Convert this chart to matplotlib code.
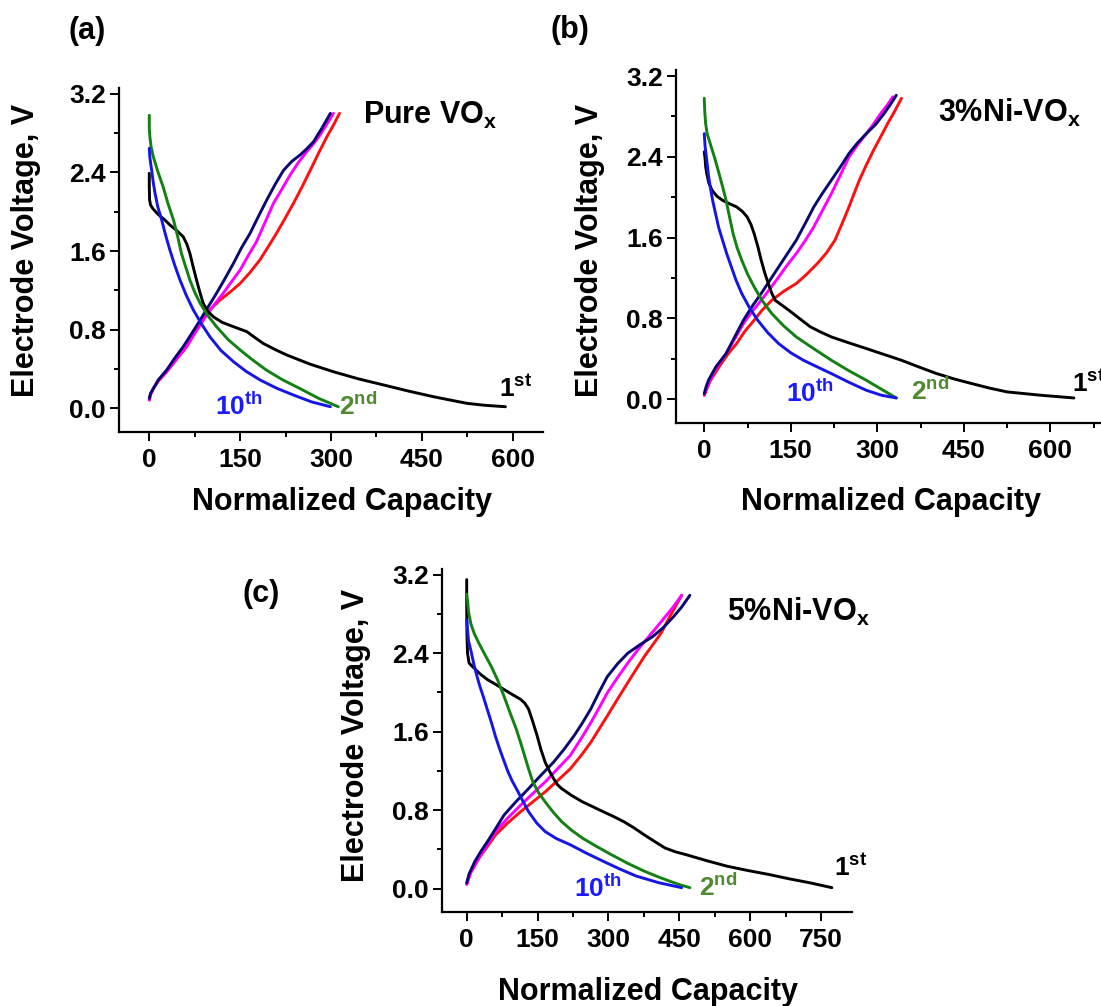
import matplotlib.pyplot as plt
from matplotlib.ticker import MultipleLocator

plt.rcParams['font.family'] = ['Liberation Sans', 'DejaVu Sans']
plt.rcParams['font.weight'] = 'bold'
plt.rcParams['mathtext.fontset'] = 'custom'
plt.rcParams['mathtext.rm'] = 'Liberation Sans:bold'
plt.rcParams['mathtext.it'] = 'Liberation Sans:bold'
plt.rcParams['mathtext.bf'] = 'Liberation Sans:bold'

W, H = 1101, 1006

# ---------- (a) Pure VOx ----------
a_d1_x = [0, 0, 0.5, 2, 6, 15, 25, 34, 45, 56, 62, 67, 72, 78, 84, 89, 96, 106, 120, 139, 150, 161, 172,
          188, 207, 227, 265, 304, 345, 387, 428, 469, 500, 525, 555, 588]
a_d1_y = [2.39, 2.25, 2.12, 2.07, 2.03, 1.97, 1.92, 1.865, 1.81, 1.745, 1.67, 1.577, 1.45, 1.305, 1.17, 1.068,
          0.99, 0.93, 0.875, 0.83, 0.805, 0.78, 0.73, 0.66, 0.60, 0.542, 0.45, 0.372, 0.30, 0.237, 0.175,
          0.118, 0.08, 0.05, 0.03, 0.016]
a_d2_x = [0, 0, 1, 3, 6.6, 14, 23, 31, 40, 47, 53, 60, 67, 75, 84, 97, 111, 130, 150, 171, 193, 220, 248, 280, 312]
a_d2_y = [2.98, 2.85, 2.76, 2.66, 2.56, 2.41, 2.25, 2.08, 1.915, 1.745, 1.577, 1.44, 1.305, 1.18, 1.068, 0.94,
          0.83, 0.70, 0.593, 0.49, 0.39, 0.29, 0.203, 0.10, 0.016]
a_d10_x = [0, 1, 2.5, 4, 6.5, 9.4, 14, 20.5, 27, 34, 42, 50.7, 61, 72.7, 86, 100, 118, 139, 160, 183, 210,
           238, 268, 299]
a_d10_y = [2.645, 2.55, 2.48, 2.42, 2.30, 2.19, 2.05, 1.915, 1.76, 1.61, 1.455, 1.305, 1.15, 1.0, 0.86, 0.728,
           0.59, 0.474, 0.375, 0.288, 0.205, 0.135, 0.065, 0.016]
a_c1_x = [0, 2, 6.6, 15, 28.7, 45, 61.7, 75, 89, 103, 116.6, 133, 150, 166, 182.7, 196, 210, 224, 238, 252,
          265.7, 279, 293, 304, 314]
a_c1_y = [0.084, 0.14, 0.2, 0.28, 0.372, 0.50, 0.627, 0.78, 0.93, 1.02, 1.1, 1.18, 1.27, 1.38, 1.51, 1.64,
          1.78, 1.93, 2.085, 2.25, 2.42, 2.59, 2.76, 2.88, 3.0]
a_c2_x = [0, 2, 6.6, 15, 28.7, 45, 61.7, 78, 94.7, 108, 122, 136, 150, 163, 177, 191, 205, 219, 232.5, 246,
          260, 271, 282, 293, 304]
a_c2_y = [0.084, 0.14, 0.2, 0.28, 0.372, 0.50, 0.627, 0.79, 0.949, 1.06, 1.17, 1.29, 1.407, 1.55, 1.695,
          1.89, 2.085, 2.23, 2.373, 2.50, 2.61, 2.69, 2.78, 2.89, 3.0]
a_c10_x = [0, 2, 6.6, 15, 28.7, 42, 56, 70, 84, 97, 111, 125, 139, 152, 166.4, 180, 194, 208, 221.5, 235,
           249, 260, 271, 285, 299]
a_c10_y = [0.10, 0.15, 0.2, 0.29, 0.39, 0.51, 0.627, 0.76, 0.898, 1.03, 1.17, 1.32, 1.475, 1.63, 1.78, 1.95,
           2.12, 2.28, 2.42, 2.51, 2.577, 2.64, 2.71, 2.85, 3.0]

# ---------- (b) 3%Ni-VOx ----------
b_d1_x = [0, 0.5, 1.2, 2.5, 4.3, 8, 13.4, 22, 31.7, 44, 56, 66, 74.3, 81, 86.5, 93, 98.7, 105, 111, 117, 123,
          135, 147, 165, 184, 202, 220.5, 250, 281, 311, 342, 372, 403, 434, 464, 495, 525, 583, 641]
b_d1_y = [2.45, 2.42, 2.40, 2.30, 2.235, 2.14, 2.07, 2.01, 1.97, 1.935, 1.905, 1.86, 1.806, 1.73, 1.64, 1.51,
          1.377, 1.25, 1.146, 1.05, 0.98, 0.93, 0.88, 0.80, 0.717, 0.665, 0.617, 0.56, 0.502, 0.445, 0.386,
          0.32, 0.254, 0.20, 0.155, 0.11, 0.073, 0.04, 0.013]
b_d2_x = [0, 0.5, 1.2, 2.4, 5, 10.4, 18, 25.6, 32, 37.8, 44, 50, 57, 65, 75, 86.5, 100, 117, 137, 159.6, 190,
          220.5, 250, 281, 307, 333]
b_d2_y = [2.98, 2.90, 2.82, 2.73, 2.63, 2.53, 2.39, 2.235, 2.10, 1.97, 1.80, 1.64, 1.50, 1.377, 1.24, 1.113,
          0.98, 0.849, 0.73, 0.617, 0.50, 0.386, 0.285, 0.188, 0.10, 0.013]
b_d10_x = [0, 1.5, 4.3, 7, 10.4, 14.5, 19.5, 25, 31.7, 39, 47, 55, 65, 78, 92.6, 110, 129, 150, 172, 196,
           220.5, 250, 281, 307, 333]
b_d10_y = [2.63, 2.50, 2.37, 2.23, 2.10, 1.97, 1.84, 1.70, 1.575, 1.44, 1.31, 1.18, 1.047, 0.91, 0.783, 0.66,
           0.551, 0.46, 0.386, 0.32, 0.254, 0.17, 0.089, 0.04, 0.013]
b_c1_x = [0, 10, 25.6, 40, 56, 70, 86.5, 100, 117, 138, 159.6, 178, 196, 212, 226.6, 239, 251, 260, 269, 281,
          293.6, 306, 318, 330, 342]
b_c1_y = [0.04, 0.18, 0.32, 0.44, 0.551, 0.67, 0.783, 0.88, 0.98, 1.07, 1.146, 1.24, 1.344, 1.45, 1.575, 1.74,
          1.905, 2.04, 2.17, 2.32, 2.467, 2.60, 2.73, 2.85, 2.98]
b_c2_x = [0, 3, 7.3, 20, 37.8, 53, 68, 83, 98.7, 114, 129, 144, 159.6, 175, 190, 205, 220.5, 236, 251, 266,
          281, 294, 306, 317, 327]
b_c2_y = [0.04, 0.10, 0.155, 0.30, 0.452, 0.60, 0.75, 0.87, 0.98, 1.095, 1.21, 1.33, 1.443, 1.57, 1.707, 1.87,
          2.037, 2.22, 2.40, 2.52, 2.63, 2.73, 2.83, 2.91, 2.995]
b_c10_x = [0, 3, 7.3, 20, 37.8, 53, 68, 83, 98.7, 114, 129, 144, 159.6, 175, 190, 205, 220.5, 236, 251, 266,
           281, 297, 312, 323, 333]
b_c10_y = [0.056, 0.12, 0.188, 0.32, 0.452, 0.62, 0.783, 0.92, 1.047, 1.18, 1.31, 1.44, 1.575, 1.74, 1.905,
           2.04, 2.17, 2.30, 2.434, 2.54, 2.63, 2.72, 2.83, 2.92, 3.01]

# ---------- (c) 5%Ni-VOx ----------
c_d1_x = [0, 0, 0.5, 1.7, 5, 13, 28, 44, 62, 79, 96, 114, 123, 131, 140, 149, 157, 166, 175, 184, 192, 201,
          222, 245, 267, 289, 311, 332.5, 354, 376, 398, 420, 442, 464, 508, 551, 595, 639, 683, 726, 773]
c_d1_y = [3.15, 2.9, 2.6, 2.4, 2.30, 2.26, 2.19, 2.13, 2.08, 2.03, 1.98, 1.93, 1.89, 1.83, 1.70, 1.56, 1.42,
          1.29, 1.20, 1.12, 1.06, 1.02, 0.95, 0.885, 0.835, 0.784, 0.735, 0.683, 0.62, 0.548, 0.48, 0.414,
          0.375, 0.347, 0.285, 0.229, 0.185, 0.145, 0.10, 0.06, 0.01]
c_d2_x = [0, 0.5, 1.75, 4, 8.75, 16, 26, 38, 52.5, 66, 79, 92, 105, 114, 122.5, 131, 140, 152, 166, 183, 201,
          222, 245, 275, 306, 340, 376, 403, 429, 451, 472.5]
c_d2_y = [3.0, 2.97, 2.94, 2.82, 2.70, 2.60, 2.50, 2.39, 2.26, 2.12, 1.96, 1.79, 1.625, 1.49, 1.356, 1.22,
          1.087, 0.98, 0.885, 0.78, 0.683, 0.595, 0.515, 0.43, 0.347, 0.26, 0.178, 0.125, 0.077, 0.04, 0.01]
c_d10_x = [0, 2, 4, 8.75, 15, 22, 28, 35, 44, 52.5, 61, 70, 79, 87.5, 96, 105, 118, 131, 148, 166, 190, 219,
           254, 289, 324, 359, 407, 455]
c_d10_y = [2.74, 2.62, 2.52, 2.43, 2.29, 2.16, 2.06, 1.96, 1.82, 1.69, 1.55, 1.42, 1.30, 1.19, 1.10, 1.02,
           0.90, 0.784, 0.67, 0.582, 0.51, 0.448, 0.36, 0.279, 0.20, 0.128, 0.06, 0.01]
c_c1_x = [0, 8, 26, 44, 61, 87, 114, 140, 166, 192, 219, 241, 262.5, 280, 297.5, 319, 341, 358, 376, 393,
          411, 433, 455]
c_c1_y = [0.044, 0.16, 0.313, 0.43, 0.548, 0.67, 0.784, 0.885, 0.986, 1.10, 1.22, 1.35, 1.49, 1.625, 1.76,
          1.93, 2.10, 2.23, 2.366, 2.48, 2.60, 2.80, 2.99]
c_c2_x = [0, 8, 26, 44, 61, 87, 114, 140, 166, 192, 219, 241, 262.5, 280, 297.5, 319, 341, 363, 385, 403,
          420, 437, 455]
c_c2_y = [0.044, 0.16, 0.313, 0.45, 0.582, 0.72, 0.85, 0.97, 1.087, 1.22, 1.356, 1.52, 1.69, 1.84, 1.995,
          2.15, 2.30, 2.44, 2.567, 2.67, 2.77, 2.87, 2.99]
c_c10_x = [0, 5, 17.5, 30, 44, 61, 79, 105, 131, 157, 184, 206, 227.5, 245, 262.5, 280, 297.5, 319, 341, 368,
           394, 416, 437.5, 455, 472.5]
c_c10_y = [0.06, 0.15, 0.28, 0.38, 0.48, 0.61, 0.75, 0.89, 1.02, 1.155, 1.29, 1.42, 1.56, 1.69, 1.83, 2.00,
           2.16, 2.29, 2.40, 2.49, 2.57, 2.66, 2.77, 2.87, 2.99]

fig = plt.figure(figsize=(W / 100, H / 100), dpi=100)


def px_rect(left, top, right, bottom):
    return [left / W, 1 - bottom / H, (right - left) / W, (bottom - top) / H]


def fig_text(px, py, s, **kw):
    fig.text(px / W, 1 - py / H, s, **kw)


def setup(ax, xlim, xmajor):
    ax.set_xlim(*xlim)
    ax.set_ylim(-0.238, 3.258)
    for side in ['top', 'right']:
        ax.spines[side].set_visible(False)
    for side in ['left', 'bottom']:
        ax.spines[side].set_linewidth(1.6)
    ax.xaxis.set_major_locator(MultipleLocator(xmajor))
    ax.xaxis.set_minor_locator(MultipleLocator(xmajor / 2))
    ax.yaxis.set_major_locator(MultipleLocator(0.8))
    ax.yaxis.set_minor_locator(MultipleLocator(0.4))
    ax.yaxis.set_major_formatter(plt.FormatStrFormatter('%.1f'))
    ax.tick_params(which='major', direction='out', length=6.5, width=1.4,
                   labelsize=19, pad=3)
    ax.tick_params(which='minor', direction='out', length=3.5, width=1.4)
    ax.tick_params(axis='x', which='major', pad=5)
    for lab in ax.get_xticklabels() + ax.get_yticklabels():
        lab.set_fontweight('bold')


def curves(ax, d1, d2, d10, c1, c2, c10):
    kw = dict(lw=2.1, solid_joinstyle='round', solid_capstyle='round')
    ax.plot(*c1, color='#ff1010', **kw)
    ax.plot(*c2, color='#ff00ff', **kw)
    ax.plot(*c10, color='#0a0a70', **kw)
    ax.plot(*d1, color='black', **kw)
    ax.plot(*d2, color='#138013', **kw)
    ax.plot(*d10, color='#1515e8', **kw)


# panel (a)
ax_a = fig.add_axes(px_rect(119, 88, 543, 431.7))
setup(ax_a, (-50, 650), 150)
curves(ax_a, (a_d1_x, a_d1_y), (a_d2_x, a_d2_y), (a_d10_x, a_d10_y),
       (a_c1_x, a_c1_y), (a_c2_x, a_c2_y), (a_c10_x, a_c10_y))
ax_a.text(353, 2.98, 'Pure VO$_x$', fontsize=22, va='center', ha='left')
ax_a.text(578, 0.125, '1$^{st}$', fontsize=19, va='baseline')
ax_a.text(109, -0.068, '10$^{th}$', fontsize=19, va='baseline', color='#1a1aff')
ax_a.text(314, -0.068, '2$^{nd}$', fontsize=19, va='baseline', color='#4f8a2f')

# panel (b)
ax_b = fig.add_axes(px_rect(676, 70.2, 1119.5, 423.3))
setup(ax_b, (-49, 720), 150)
curves(ax_b, (b_d1_x, b_d1_y), (b_d2_x, b_d2_y), (b_d10_x, b_d10_y),
       (b_c1_x, b_c1_y), (b_c2_x, b_c2_y), (b_c10_x, b_c10_y))
ax_b.text(405, 2.83, '3%Ni-VO$_x$', fontsize=22, va='center', ha='left')
ax_b.text(637, 0.075, '1$^{st}$', fontsize=19, va='baseline')
ax_b.text(141.6, -0.024, '10$^{th}$', fontsize=19, va='baseline', color='#1a1aff')
ax_b.text(358, -0.007, '2$^{nd}$', fontsize=19, va='baseline', color='#4f8a2f')

# panel (c)
ax_c = fig.add_axes(px_rect(442, 569, 851.7, 912))
setup(ax_c, (-52.3, 815), 150)
curves(ax_c, (c_d1_x, c_d1_y), (c_d2_x, c_d2_y), (c_d10_x, c_d10_y),
       (c_c1_x, c_c1_y), (c_c2_x, c_c2_y), (c_c10_x, c_c10_y))
ax_c.text(551, 2.82, '5%Ni-VO$_x$', fontsize=22, va='center', ha='left')
ax_c.text(778, 0.136, '1$^{st}$', fontsize=19, va='baseline')
ax_c.text(227.5, -0.09, '10$^{th}$', fontsize=19, va='baseline', color='#1a1aff')
ax_c.text(492.6, -0.074, '2$^{nd}$', fontsize=19, va='baseline', color='#4f8a2f')

# axis titles and panel letters
ylab = 'Electrode Voltage, V'
xlab = 'Normalized Capacity'
fig_text(26, 250, ylab, fontsize=22, rotation=90, ha='center', va='center')
fig_text(342, 502, xlab, fontsize=22, ha='center', va='center')
fig_text(590, 250, ylab, fontsize=22, rotation=90, ha='center', va='center')
fig_text(891, 502, xlab, fontsize=22, ha='center', va='center')
fig_text(356, 735, ylab, fontsize=22, rotation=90, ha='center', va='center')
fig_text(648, 992, xlab, fontsize=22, ha='center', va='center')

fig_text(69, 31, '(a)', fontsize=22, ha='left', va='center')
fig_text(550, 30, '(b)', fontsize=22, ha='left', va='center')
fig_text(242, 594, '(c)', fontsize=22, ha='left', va='center')

plt.savefig('out.png', dpi=100)
